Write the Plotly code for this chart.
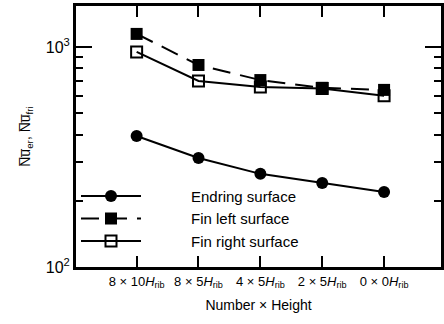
import plotly.graph_objects as go

categories = ["8 × 10<i>H</i><sub>rib</sub>", "8 × 5<i>H</i><sub>rib</sub>", "4 × 5<i>H</i><sub>rib</sub>",
              "2 × 5<i>H</i><sub>rib</sub>", "0 × 0<i>H</i><sub>rib</sub>"]
endring = [394, 313, 265, 241, 219]
fin_left = [1146, 828, 707, 652, 638]
fin_right = [949, 700, 658, 648, 600]

pad = "\u2003\u2003\u2003"
fig = go.Figure()
fig.add_trace(go.Scatter(x=categories, y=endring, name=pad + "Endring surface", mode="lines+markers",
                         line=dict(color="black", width=2), marker=dict(symbol="circle", size=12, color="black")))
fig.add_trace(go.Scatter(x=categories, y=fin_left, name=pad + "Fin left surface", mode="lines+markers",
                         line=dict(color="black", width=2, dash="18px,10px"),
                         marker=dict(symbol="square", size=12, color="black")))
fig.add_trace(go.Scatter(x=categories, y=fin_right, name=pad + "Fin right surface", mode="lines+markers",
                         line=dict(color="black", width=2),
                         marker=dict(symbol="square-open", size=11, color="black", line=dict(width=2))))

font = dict(family="Liberation Sans, Arial, sans-serif", size=13, color="black")
fig.update_layout(
    width=446, height=324,
    margin=dict(l=76, r=2, t=6, b=57),
    paper_bgcolor="white", plot_bgcolor="white",
    font=font,
    showlegend=True,
    legend=dict(x=0.0, y=0.035, xanchor="left", yanchor="bottom", bgcolor="rgba(0,0,0,0)",
                font=dict(family="Liberation Sans, Arial, sans-serif", size=15, color="black"),
                itemwidth=60, tracegroupgap=0),
)
fig.update_xaxes(type="category", range=[-0.98, 4.92], showline=True, linewidth=3, linecolor="black",
                 mirror="ticks", ticks="inside", ticklen=11, tickwidth=2, tickcolor="black",
                 showgrid=False, zeroline=False, tickfont=dict(size=13),
                 title=dict(text="Number × Height", standoff=11, font=dict(size=14)))
fig.update_yaxes(type="log", range=[2, 3.186], showline=True, linewidth=3, linecolor="black",
                 mirror="ticks", ticks="inside", ticklen=16, tickwidth=2, tickcolor="black",
                 tickvals=[100, 1000], ticktext=["10<sup>2</sup>", "10<sup>3</sup>"],
                 tickfont=dict(size=16),
                 minor=dict(ticks="inside", ticklen=7, tickwidth=2, tickcolor="black",
                            tickvals=[200, 300, 400, 500, 600, 700, 800, 900], showgrid=False),
                 showgrid=False, zeroline=False,
                 title=dict(text="N\u0305u\u0305<sub>er</sub>, N\u0305u\u0305<sub>fri</sub>", standoff=12,
                            font=dict(size=14)))

fig.write_html("out.html")
